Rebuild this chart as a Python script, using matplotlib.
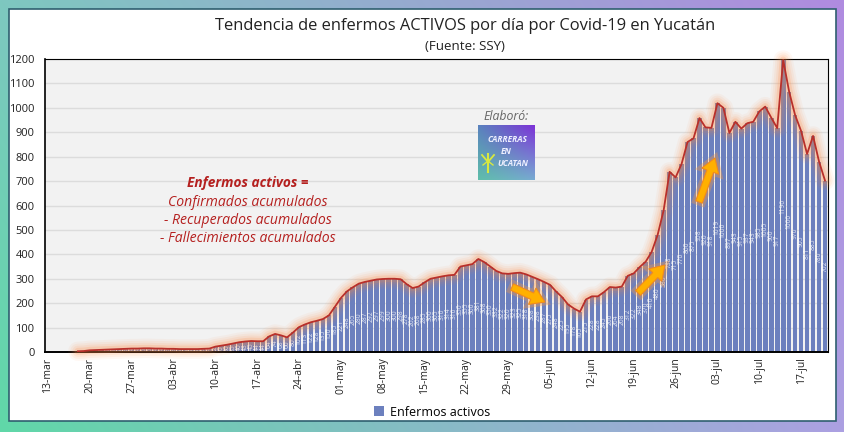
#%% tendencia de enfermos activos covid-19 yucatan
import numpy as np
import pandas as pd
import matplotlib
matplotlib.use('Agg')
import matplotlib.pyplot as plt
import matplotlib.patheffects as pe
from matplotlib.patches import FancyArrow, Rectangle

plt.rcParams['font.family'] = ['Open Sans', 'DejaVu Sans']

#%% data

fechas = pd.date_range('2020-03-13', periods=131, freq='D')

meses = {3: 'mar', 4: 'abr', 5: 'may', 6: 'jun', 7: 'jul'}

activos_mar = [1, 1, 1, 2, 2, 3, 4, 7, 8, 9, 10, 11, 12, 13, 14, 14, 15, 15, 14, 14, 13]
activos_abr = [13, 12, 12, 12, 12, 13, 14, 22, 26, 30, 35, 40, 43, 45, 44, 44, 64, 74, 68,
               60, 80, 102, 113, 122, 128, 135, 150, 185]
activos_may = [221, 248, 265, 280, 287, 292, 297, 299, 300, 300, 298, 278, 262, 268, 285,
               300, 305, 310, 314, 316, 350, 355, 360, 381, 368, 350, 332, 322, 320, 323,
               325, 318, 308, 298, 287]
activos_jun = [275, 248, 225, 195, 178, 165, 215, 228, 228, 245, 266, 264, 268, 312, 322,
               348, 370, 410, 480, 580, 738, 715, 770, 860, 875, 958, 920, 918]
activos_jul = [1019, 1000, 897, 943, 915, 937, 943, 985, 1005, 960, 917, 1196, 1066, 970,
               905, 811, 885, 780, 702]
activos = activos_mar + activos_abr + activos_may + activos_jun + activos_jul

yticks = list(range(0, 1300, 100))

titulo = 'Tendencia de enfermos ACTIVOS por día por Covid-19 en Yucatán'
fuente = '(Fuente: SSY)'
nota = ['Confirmados acumulados', '- Recuperados acumulados', '- Fallecimientos acumulados']

#%% figure and background

W, H = 844, 432
fig = plt.figure(figsize=(W/100, H/100), dpi=100)

# gradient border
bg = fig.add_axes([0, 0, 1, 1], zorder=0)
esquinas = np.array([[[126, 200, 192], [176, 139, 224]],
                     [[96, 216, 168], [172, 160, 226]]]) / 255
u = np.linspace(0, 1, W)[None, :, None]
v = np.linspace(0, 1, H)[:, None, None]
grad = (esquinas[0, 0]*(1-u)*(1-v) + esquinas[0, 1]*u*(1-v)
        + esquinas[1, 0]*(1-u)*v + esquinas[1, 1]*u*v)
bg.imshow(grad, extent=(0, W, H, 0), aspect='auto')
bg.add_patch(Rectangle((9, 9), 827, 412, fc='white', ec='#2f5f6f', lw=1.2))
bg.set_xlim(0, W)
bg.set_ylim(H, 0)
bg.axis('off')

#%% chart

ax = fig.add_axes([45/W, 1-352/H, 783/W, 293/H], zorder=1)
ax.set_facecolor('#f2f2f2')
x = np.arange(len(activos))

ax.yaxis.grid(True, color='#dcdcdc', lw=1.0)
ax.set_axisbelow(True)
barras = ax.bar(x, activos, width=0.78, color='#6c80be', label='Enfermos activos')

# glow under the line
for lw, alpha in [(14, 0.06), (11, 0.08), (8, 0.10), (5, 0.18)]:
    ax.plot(x[5:], activos[5:], color='#ff8a40', lw=lw, alpha=alpha, clip_on=False,
            solid_joinstyle='round', solid_capstyle='round', zorder=3)
ax.plot(x[5:], activos[5:], color='#b9302a', lw=1.3, solid_joinstyle='round', zorder=3)

# labels inside the bars
for xi, val in zip(x, activos):
    if val > 2:
        ax.text(xi, val/2, str(val), rotation=90, ha='center', va='center',
                color='white', fontsize=4.8, alpha=0.8, zorder=2)

ax.set_xlim(-0.5, len(activos)-0.5)
ax.set_ylim(0, 1200)
ax.set_yticks(yticks)
ax.tick_params(axis='y', length=0, labelsize=8, pad=7.5, labelcolor='#222222')
semanas = x[::7]
ax.set_xticks(semanas)
ax.set_xticklabels(['%02d-%s' % (fechas[i].day, meses[fechas[i].month]) for i in semanas],
                   rotation=90)
ax.tick_params(axis='x', length=0, labelsize=7.5, pad=4, labelcolor='#222222')
for s in ax.spines.values():
    s.set_linewidth(0.8)
    s.set_color('black')
ax.spines['left'].set_linewidth(1.2)
ax.spines['bottom'].set_linewidth(1.4)

fig.legend(handles=[barras], loc='center', bbox_to_anchor=(432/W, 1-412/H), frameon=False,
           fontsize=9, handlelength=0.8, handleheight=0.8, handletextpad=0.5)

#%% overlay: titles, notes, logo, arrows (pixel coordinates)

ov = fig.add_axes([0, 0, 1, 1], zorder=2)
ov.set_xlim(0, W)
ov.set_ylim(H, 0)
ov.axis('off')

ov.text(465, 26, titulo, ha='center', va='center', fontsize=11.9, color='#222222')
ov.text(465, 46, fuente, ha='center', va='center', fontsize=9.6, color='#222222')

ov.text(248, 183, 'Enfermos activos =', ha='center', va='center', fontsize=9.8,
        style='italic', weight='bold', color='#b5201f')
for yy, linea in zip([202, 220, 238], nota):
    ov.text(248, yy, linea, ha='center', va='center', fontsize=10.1,
            style='italic', color='#b5201f')

ov.text(506, 116, 'Elaboró:', ha='center', va='center', fontsize=8.8, style='italic',
        color='#666666')

# logo
logo_u = np.linspace(0, 1, 57)[None, :, None]
logo_v = np.linspace(0, 1, 55)[:, None, None]
logo_c = np.array([[[90, 130, 190], [125, 50, 215]], [[95, 190, 170], [120, 170, 210]]]) / 255
logo = (logo_c[0, 0]*(1-logo_u)*(1-logo_v) + logo_c[0, 1]*logo_u*(1-logo_v)
        + logo_c[1, 0]*(1-logo_u)*logo_v + logo_c[1, 1]*logo_u*logo_v)
ov.imshow(logo, extent=(478, 535, 180, 125), aspect='auto', zorder=3)
ov.set_xlim(0, W)
ov.set_ylim(H, 0)
ov.text(507, 139, 'CARRERAS', ha='center', va='center', fontsize=6, style='italic',
        weight='bold', color='#eef0ff', zorder=4)
ov.text(506, 151, 'EN', ha='center', va='center', fontsize=6, style='italic',
        weight='bold', color='#eef0ff', zorder=4)
ov.text(513, 164, 'UCATAN', ha='center', va='center', fontsize=6, style='italic',
        weight='bold', color='#eef0ff', zorder=4)
ov.plot([488, 488], [154, 172], color='#d8e840', lw=1.5, zorder=4)
ov.plot([482, 488, 494], [155, 162, 155], color='#d8e840', lw=1.3, zorder=4)
ov.plot([483, 488, 493], [165, 161, 165], color='#d8e840', lw=1.0, zorder=4)

# arrows
flechas = [(512, 287, 545, 302), (638, 293, 665, 265), (699, 202, 715, 158)]
for x0, y0, x1, y1 in flechas:
    a = FancyArrow(x0, y0, x1-x0, y1-y0, width=7, head_width=18, head_length=14,
                   length_includes_head=True, fc='#ffb000', ec='#f08a20', lw=0.8, zorder=5)
    a.set_path_effects([pe.withStroke(linewidth=5, foreground='#ff9a3a', alpha=0.35)])
    ov.add_patch(a)

fig.savefig('out.png', dpi=100)
